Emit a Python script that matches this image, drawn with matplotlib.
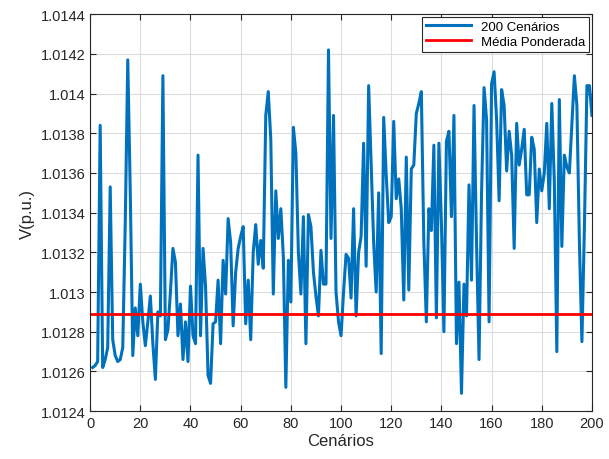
import numpy as np
import matplotlib
matplotlib.use('Agg')
from matplotlib import pyplot as plt
from matplotlib.ticker import FormatStrFormatter, MultipleLocator

plt.rcParams['font.family'] = ['Liberation Sans', 'DejaVu Sans']

# tensões dos 200 cenários
tensoes = [
    1.01262, 1.01263, 1.01265, 1.01384, 1.01262, 1.01266, 1.01272, 1.01353, 1.01276, 1.01268,
    1.01265, 1.01266, 1.01272, 1.01335, 1.01417, 1.01350, 1.01268, 1.01292, 1.01278, 1.01304,
    1.01285, 1.01273, 1.01285, 1.01298, 1.01274, 1.01256, 1.01290, 1.01288, 1.01409, 1.01276,
    1.01281, 1.01300, 1.01322, 1.01315, 1.01278, 1.01294, 1.01266, 1.01285, 1.01265, 1.01303,
    1.01278, 1.01274, 1.01369, 1.01278, 1.01322, 1.01303, 1.01258, 1.01254, 1.01284, 1.01285,
    1.01306, 1.01274, 1.01316, 1.01299, 1.01337, 1.01325, 1.01283, 1.01310, 1.01322, 1.01328,
    1.01333, 1.01284, 1.01306, 1.01276, 1.01320, 1.01334, 1.01314, 1.01326, 1.01312, 1.01389,
    1.01401, 1.01377, 1.01299, 1.01351, 1.01327, 1.01342, 1.01318, 1.01252, 1.01316, 1.01295,
    1.01383, 1.01370, 1.01320, 1.01299, 1.01338, 1.01274, 1.01339, 1.01333, 1.01310, 1.01298,
    1.01288, 1.01321, 1.01304, 1.01304, 1.01422, 1.01327, 1.01389, 1.01300, 1.01285, 1.01278,
    1.01300, 1.01319, 1.01317, 1.01297, 1.01342, 1.01288, 1.01320, 1.01328, 1.01375, 1.01313,
    1.01404, 1.01364, 1.01325, 1.01300, 1.01350, 1.01269, 1.01388, 1.01359, 1.01335, 1.01338,
    1.01386, 1.01347, 1.01357, 1.01342, 1.01296, 1.01368, 1.01301, 1.01362, 1.01364, 1.01390,
    1.01395, 1.01401, 1.01325, 1.01285, 1.01342, 1.01331, 1.01374, 1.01287, 1.01375, 1.01335,
    1.01280, 1.01376, 1.01381, 1.01338, 1.01389, 1.01274, 1.01305, 1.01249, 1.01304, 1.01288,
    1.01354, 1.01306, 1.01394, 1.01325, 1.01266, 1.01350, 1.01403, 1.01387, 1.01285, 1.01405,
    1.01411, 1.01387, 1.01346, 1.01402, 1.01394, 1.01361, 1.01381, 1.01369, 1.01322, 1.01385,
    1.01364, 1.01372, 1.01382, 1.01349, 1.01349, 1.01378, 1.01372, 1.01335, 1.01362, 1.01351,
    1.01360, 1.01385, 1.01342, 1.01395, 1.01356, 1.01270, 1.01397, 1.01323, 1.01369, 1.01363,
    1.01360, 1.01385, 1.01409, 1.01394, 1.01325, 1.01275, 1.01333, 1.01404, 1.01404, 1.01389,
]
cenarios = np.arange(1, len(tensoes) + 1)
media_ponderada = 1.01289

fig = plt.figure(figsize=(6.09, 4.6), dpi=100)
ax = fig.add_axes([0.148, 0.104, 0.824, 0.863])

ax.plot(cenarios, tensoes, color=(0, 0.447, 0.741), linewidth=2.2, label='200 Cenários')
ax.axhline(media_ponderada, color='red', linewidth=2, label='Média Ponderada')

ax.set_xlim(0, 200)
ax.set_ylim(1.0124, 1.0144)
ax.xaxis.set_major_locator(MultipleLocator(20))
ax.yaxis.set_major_locator(MultipleLocator(0.0002))
ax.yaxis.set_major_formatter(FormatStrFormatter('%g'))

ax.grid(True, color='#dcdcdc', linewidth=0.8)
ax.set_axisbelow(True)
ax.tick_params(direction='in', length=4, labelsize=10.5, colors='#262626', top=True, right=True,
               labeltop=False, labelright=False)
for s in ax.spines.values():
    s.set_color('#262626')
    s.set_linewidth(0.8)

ax.set_xlabel('Cenários', fontsize=12, color='#262626', labelpad=2)
ax.set_ylabel('V(p.u.)', fontsize=12, color='#262626', labelpad=4)

leg = ax.legend(loc='upper right', fontsize=9.5, fancybox=False, framealpha=1,
                edgecolor='#262626', borderaxespad=0.2, handlelength=3.4,
                borderpad=0.3, labelspacing=0.2)
leg.get_frame().set_linewidth(0.8)

plt.savefig('out.png', dpi=100)
